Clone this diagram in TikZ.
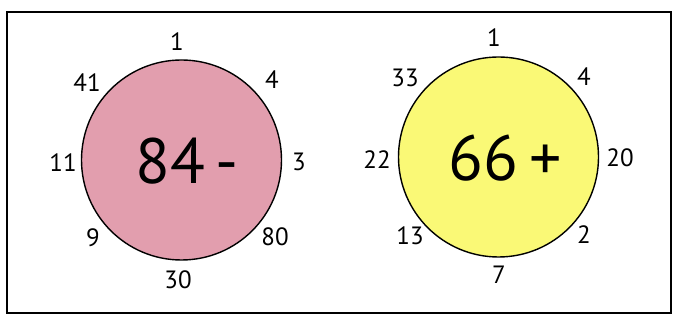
\documentclass[tikz,border=0pt]{standalone}
\usepackage{fontspec}
\setmainfont{PT Sans}
\definecolor{pinkfill}{RGB}{226,158,174}
\definecolor{yellowfill}{RGB}{250,249,118}
\begin{document}
\begin{tikzpicture}[x=1pt,y=1pt,
  ring/.style={circle,draw=black,line width=1.4pt,minimum size=200pt,inner sep=0pt},
  num/.style={font=\fontsize{25}{25}\selectfont,inner sep=0pt},
  big/.style={font=\fontsize{64}{64}\selectfont,inner sep=0pt}]
\useasboundingbox (0,0) rectangle (674,320);
\draw[line width=1.4pt] (7,7) rectangle (671,308);
% left
\node[ring,fill=pinkfill] (L) at (181.5,160) {};
\node[big] (Lt) at (187,159) {84\,-};
\node[num] (L1) at (177,278) {1};
\node[num] (L41) at (87,237) {41};
\node[num] (L4) at (272,240) {4};
\node[num] (L11) at (63,157) {11};
\node[num] (L3) at (299,158) {3};
\node[num] (L9) at (93,82) {9};
\node[num] (L80) at (275,83) {80};
\node[num] (L30) at (178,40) {30};
% right
\node[ring,fill=yellowfill] (R) at (498.5,163) {};
\node[big] (Rt) at (505,162) {66\,+};
\node[num] (R1) at (494,282) {1};
\node[num] (R33) at (405,242) {33};
\node[num] (R4) at (584,243) {4};
\node[num] (R22) at (377,160) {22};
\node[num] (R20) at (620,162) {20};
\node[num] (R13) at (410,84) {13};
\node[num] (R2) at (584,85) {2};
\node[num] (R7) at (499,45) {7};
\end{tikzpicture}
\end{document}
